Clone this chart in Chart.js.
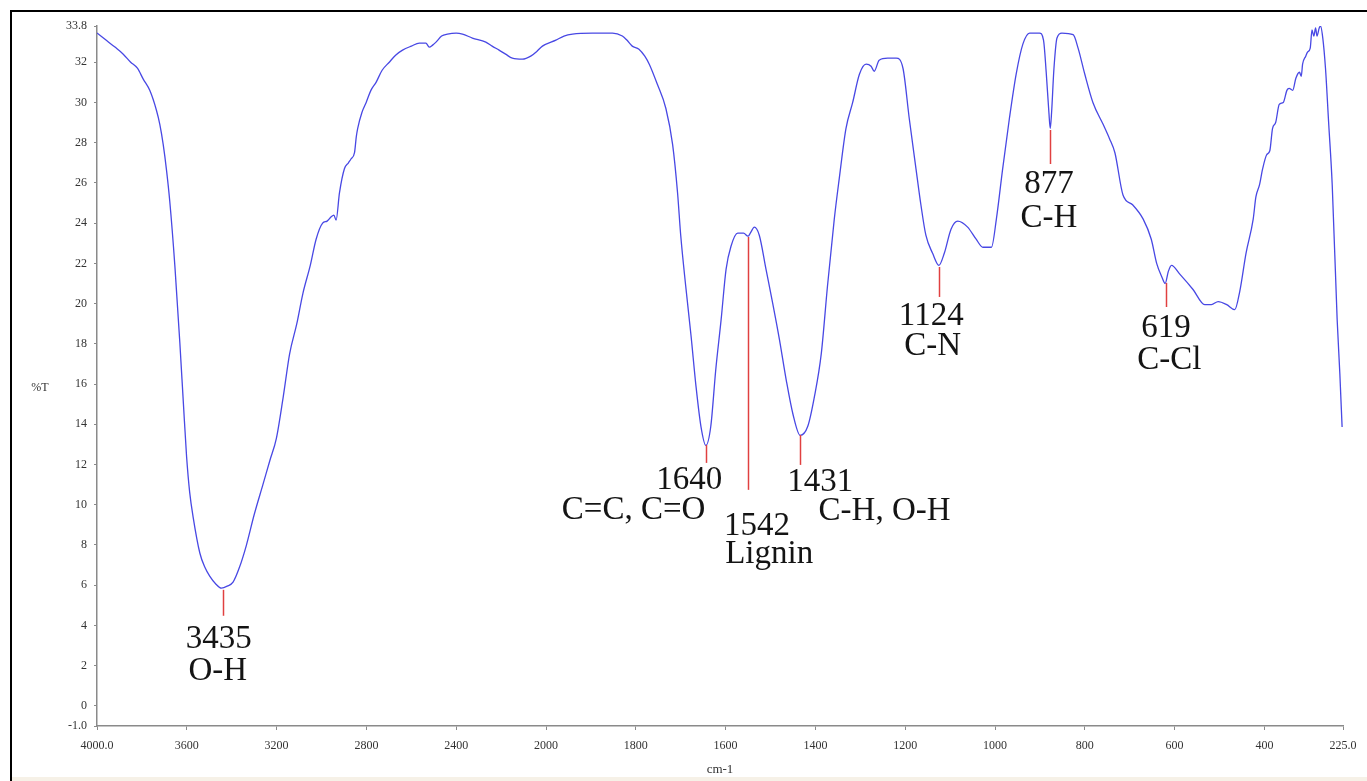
<!DOCTYPE html>
<html>
<head>
<meta charset="utf-8">
<script src="https://cdn.jsdelivr.net/npm/chart.js@4"></script>
<style>
  html, body { margin: 0; padding: 0; background: #ffffff; }
  canvas { display: block; }
</style>
</head>
<body>
<canvas id="c" width="1367" height="781"></canvas>
<script>
// ---- Data ----
const wavenumbers = [
  4000,3960,3920,3883,3850,3820,3794,3765,3735,3720,3705,3690,3676,3653,3631,3615,3601,3587,3572,3542,3520,
  3498,3470,3446,3420,3394,3365,3335,3300,3261,3230,3201,3170,3142,3110,3083,3050,3024,2995,2975,2958,
  2945,2935,2920,2898,2880,2868,2853,2845,2839,2820,2801,2780,2757,2730,2698,2670,2639,2600,2564,2535,
  2520,2505,2490,2465,2439,2400,2372,2328,2268,2240,2209,2180,2150,2105,2068,2040,2016,1978,1960,1941,
  1897,1852,1830,1820,1808,1793,1780,1770,1752,1733,1718,1707,1700,1689,1677,1666,1655,1644,1633,1622,
  1610,1599,1588,1573,1560,1550,1545,1536,1525,1510,1495,1480,1465,1450,1434,1417,1402,1387,1373,1358,
  1347,1332,1317,1302,1287,1276,1269,1258,1239,1220,1205,1191,1176,1165,1154,1139,1125,1113,1098,1083,
  1061,1042,1027,1008,997,983,968,953,938,923,901,892,886,880,877,874,869,862,851,826,
  815,800,782,759,745,733,715,693,670,652,640,628,621,614,607,588,559,533,518,503,
  484,466,455,441,425,419,411,404,395,388,382,375,367,358,350,345,337,330,322,318,
  315,308,304,298,294,290,286,283,278,275,270,264,257,249,238,232,227
];
const transmittance = [
  33.45,33.1,32.75,32.4,32.0,31.7,31.16,30.6,29.6,28.9,27.9,26.6,25.1,21.85,18.05,15.0,12.4,10.6,9.4,7.6,6.9,
  6.45,6.05,5.85,5.95,6.15,6.9,7.97,9.5,11.0,12.2,13.3,15.4,17.5,19.0,20.5,21.9,23.2,24.0,24.1,24.3,
  24.4,24.15,25.5,26.7,27.0,27.2,27.5,28.3,28.7,29.5,30.0,30.6,31.0,31.6,32.0,32.35,32.6,32.8,32.95,32.95,
  32.75,32.85,33.0,33.3,33.4,33.45,33.4,33.2,33.0,32.8,32.6,32.4,32.2,32.15,32.3,32.55,32.8,33.1,33.3,33.4,
  33.45,33.45,33.3,33.1,32.8,32.65,32.3,31.9,30.9,29.7,27.9,25.5,23.4,20.9,18.4,15.9,13.9,12.95,13.9,16.7,
  19.2,21.7,22.85,23.5,23.5,23.35,23.5,23.8,23.4,21.7,20.0,18.2,16.2,14.5,13.45,13.9,15.4,17.5,20.9,24.2,
  26.2,28.7,30.0,31.4,31.9,31.8,31.55,32.1,32.2,32.2,31.7,29.2,26.7,24.9,23.4,22.5,21.9,22.5,23.7,24.1,
  23.8,23.2,22.8,22.8,24.2,26.7,29.2,31.4,32.9,33.45,33.45,33.1,31.5,29.5,28.7,29.5,31.6,33.2,33.45,33.37,
  32.7,31.4,30.0,28.9,28.2,27.5,25.4,24.9,24.2,23.2,22.0,21.3,21.0,21.6,21.9,21.45,20.7,19.95,19.95,20.1,
  19.95,19.7,20.6,22.5,24.2,25.3,25.9,26.7,27.4,27.6,28.7,29.0,29.9,30.0,30.6,30.7,30.6,31.2,31.5,31.3,
  31.9,32.3,32.5,32.7,33.6,33.3,33.7,33.3,33.7,33.8,33.2,31.7,29.0,25.9,19.2,16.5,13.86
];

// axis ticks
const xTickValues = [4000, 3600, 3200, 2800, 2400, 2000, 1800, 1600, 1400, 1200, 1000, 800, 600, 400, 225];
const xTickLabels = ['4000.0', '3600', '3200', '2800', '2400', '2000', '1800', '1600', '1400', '1200', '1000', '800', '600', '400', '225.0'];
const yTickValues = [33.8, 32, 30, 28, 26, 24, 22, 20, 18, 16, 14, 12, 10, 8, 6, 4, 2, 0, -1.0];
const yTickLabels = ['33.8', '32', '30', '28', '26', '24', '22', '20', '18', '16', '14', '12', '10', '8', '6', '4', '2', '0', '-1.0'];

// peak markers (wavenumber of marker, %T of top and bottom of marker)
const markerWn = [3440, 1643, 1551, 1435, 1125, 878, 620];
const markerTop = [5.77, 12.97, 23.31, 13.47, 21.82, 28.63, 21.03];
const markerBottom = [4.48, 12.08, 10.74, 11.98, 20.33, 26.94, 19.83];

// annotation texts (centre wavenumber, baseline %T)
const labelTexts = ['3435', 'O-H', '1640', 'C=C, C=O', '1542', 'Lignin', '1431', 'C-H, O-H', '1124', 'C-N', '877', 'C-H', '619', 'C-Cl'];
const labelWn = [3458, 3462, 1681, 1805, 1530, 1503, 1389, 1246, 1142, 1139, 880, 880, 619, 612];
const labelT = [2.89, 1.3, 10.77, 9.28, 8.5, 7.1, 10.7, 9.25, 18.94, 17.45, 25.51, 23.82, 18.34, 16.75];

// ---- Axis with 2x expansion below 2000 cm-1 ----
function toU(w) { return w > 2000 ? 2000 + (w - 2000) / 2 : w; }

const points = wavenumbers.map((w, i) => ({ x: toU(w), y: transmittance[i] }));

const framePlugin = {
  id: 'frame',
  beforeDraw(chart) {
    const ctx = chart.ctx;
    ctx.save();
    ctx.fillStyle = '#ffffff';
    ctx.fillRect(0, 0, chart.width, chart.height);
    ctx.fillStyle = '#f6f1e7';
    ctx.fillRect(12, 777, chart.width - 12, 4);
    ctx.strokeStyle = '#000000';
    ctx.lineWidth = 2;
    ctx.beginPath();
    ctx.moveTo(11, chart.height);
    ctx.lineTo(11, 11);
    ctx.lineTo(chart.width, 11);
    ctx.stroke();
    ctx.restore();
  },
  afterDraw(chart) {
    const ctx = chart.ctx;
    const xs = chart.scales.x, ys = chart.scales.y;
    ctx.save();
    // axis titles
    ctx.fillStyle = '#333333';
    ctx.font = '12px "Liberation Serif"';
    ctx.textAlign = 'center';
    ctx.textBaseline = 'middle';
    ctx.fillText('%T', 40, 388);
    ctx.font = '13px "Liberation Serif"';
    ctx.fillText('cm-1', (xs.left + xs.right) / 2, 770);
    // peak markers
    ctx.strokeStyle = '#e04040';
    ctx.lineWidth = 1.5;
    markerWn.forEach((w, i) => {
      const px = Math.round(xs.getPixelForValue(toU(w))) + 0.5;
      ctx.beginPath();
      ctx.moveTo(px, ys.getPixelForValue(markerTop[i]));
      ctx.lineTo(px, ys.getPixelForValue(markerBottom[i]));
      ctx.stroke();
    });
    // labels
    ctx.fillStyle = '#141414';
    ctx.font = '33px "Liberation Serif"';
    ctx.textAlign = 'center';
    ctx.textBaseline = 'alphabetic';
    labelTexts.forEach((t, i) => {
      ctx.fillText(t, xs.getPixelForValue(toU(labelWn[i])), ys.getPixelForValue(labelT[i]));
    });
    ctx.restore();
  }
};

new Chart(document.getElementById('c'), {
  type: 'line',
  data: {
    datasets: [{
      data: points,
      borderColor: 'rgb(72,72,228)',
      borderWidth: 1.3,
      pointRadius: 0,
      fill: false,
      cubicInterpolationMode: 'monotone'
    }]
  },
  options: {
    responsive: false,
    devicePixelRatio: 1,
    animation: false,
    events: [],
    layout: { padding: { top: 26, right: 24, left: 0, bottom: 0 } },
    plugins: { legend: { display: false }, tooltip: { enabled: false } },
    scales: {
      x: {
        type: 'linear',
        reverse: true,
        min: 225,
        max: 3000,
        afterBuildTicks(scale) { scale.ticks = xTickValues.map(v => ({ value: toU(v) })); },
        afterFit(scale) { scale.height = 55; },
        ticks: {
          autoSkip: false,
          maxRotation: 0,
          padding: 9,
          color: '#333333',
          font: { family: 'Liberation Serif', size: 12 },
          callback: (v, i) => xTickLabels[i]
        },
        grid: { drawOnChartArea: false, drawTicks: true, tickLength: 4, color: '#8a8a8a', lineWidth: 1 },
        border: { display: true, color: '#8a8a8a', width: 1.5 }
      },
      y: {
        type: 'linear',
        min: -1,
        max: 33.8,
        afterBuildTicks(scale) { scale.ticks = yTickValues.map(v => ({ value: v })); },
        afterFit(scale) { scale.width = 97; },
        ticks: {
          autoSkip: false,
          padding: 7,
          color: '#333333',
          font: { family: 'Liberation Serif', size: 12 },
          callback: (v, i) => yTickLabels[i]
        },
        grid: { drawOnChartArea: false, drawTicks: true, tickLength: 3, color: '#8a8a8a', lineWidth: 1 },
        border: { display: true, color: '#8a8a8a', width: 1.5 }
      }
    }
  },
  plugins: [framePlugin]
});
</script>
</body>
</html>
